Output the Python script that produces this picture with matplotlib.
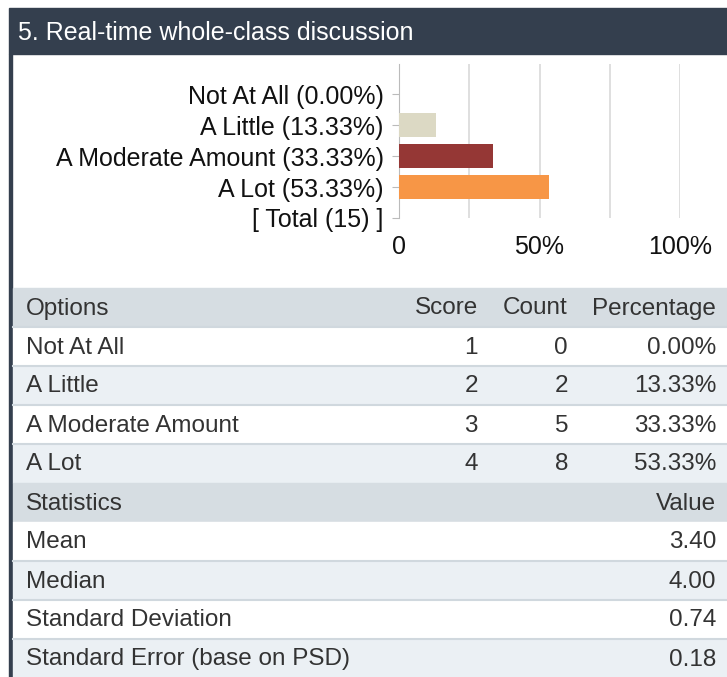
import matplotlib.pyplot as plt
from matplotlib.patches import Rectangle

plt.rcParams['font.family'] = ['Liberation Sans', 'DejaVu Sans']

title = "5. Real-time whole-class discussion"
options = ["Not At All", "A Little", "A Moderate Amount", "A Lot"]
scores = [1, 2, 3, 4]
counts = [0, 2, 5, 8]
percents = [0.00, 13.33, 33.33, 53.33]
total = 15
bar_colors = ["#dcd9c4", "#953735", "#f79646"]
stat_names = ["Mean", "Median", "Standard Deviation", "Standard Error (base on PSD)"]
stat_values = ["3.40", "4.00", "0.74", "0.18"]

W, H = 727, 677
fig = plt.figure(figsize=(W / 100, H / 100), dpi=100)

# full-figure canvas in pixel units for header and table
bg = fig.add_axes([0, 0, 1, 1])
bg.set_xlim(0, W)
bg.set_ylim(H, 0)
bg.axis('off')

text_col = "#333333"
light = "#ebf0f4"
band = "#d6dde2"
line_col = "#d0d8de"
fs = 17.5

bg.add_patch(Rectangle((9, 8), W - 9, 46, color="#343f4e"))
bg.text(18, 33, title, color="white", fontsize=18, va='center', ha='left')
bg.add_patch(Rectangle((9, 54), 2.5, H - 54, color="#343f4e"))

# bar chart
x0, x1, ytop, ybot = 399, 680, 64, 218
ax = fig.add_axes([x0 / W, 1 - ybot / H, (x1 - x0) / W, (ybot - ytop) / H])
ylabels = [f"{o} ({p:.2f}%)" for o, p in zip(options, percents)] + [f"[ Total ({total}) ]"]
ax.barh(range(1, 4), percents[1:], height=0.78, color=bar_colors, zorder=3)
ax.set_xlim(0, 100)
ax.set_ylim(4, -0.97)
ax.set_yticks(range(5))
ax.set_yticklabels(ylabels, fontsize=18, color="#111111")
ax.set_xticks([0, 25, 50, 75, 100])
ax.set_xticklabels(["0", "", "50%", "", "100%"], fontsize=18, color="#111111")
ax.grid(axis='x', color="#d9d9d9", lw=1.2, zorder=0)
for s in ['top', 'right', 'bottom']:
    ax.spines[s].set_visible(False)
ax.spines['left'].set_color("#bbbbbb")
ax.tick_params(axis='y', length=5, color="#bbbbbb", pad=6)
ax.tick_params(axis='x', length=0, pad=12)

# table
row_h = 39
cols_right = [478, 568, 716]
y = 288
bg.add_patch(Rectangle((13, y), W - 13, row_h, color=band))
bg.text(26, y + row_h / 2 + 1, "Options", fontsize=fs, color=text_col, va='center')
for xr, h in zip(cols_right, ["Score", "Count", "Percentage"]):
    bg.text(xr, y + row_h / 2 + 1, h, fontsize=fs, color=text_col, va='center', ha='right')
y += row_h
for i, (o, s, c, p) in enumerate(zip(options, scores, counts, percents)):
    bg.add_patch(Rectangle((13, y), W - 13, row_h, color=light if i % 2 else "white"))
    bg.plot([13, W], [y, y], color=line_col, lw=1.5)
    bg.text(26, y + row_h / 2 + 1, o, fontsize=fs, color=text_col, va='center')
    for xr, v in zip(cols_right, [str(s), str(c), f"{p:.2f}%"]):
        bg.text(xr, y + row_h / 2 + 1, v, fontsize=fs, color=text_col, va='center', ha='right')
    y += row_h
bg.add_patch(Rectangle((13, y), W - 13, row_h, color=band))
bg.text(26, y + row_h / 2 + 1, "Statistics", fontsize=fs, color=text_col, va='center')
bg.text(716, y + row_h / 2 + 1, "Value", fontsize=fs, color=text_col, va='center', ha='right')
y += row_h
for i, (n, v) in enumerate(zip(stat_names, stat_values)):
    bg.add_patch(Rectangle((13, y), W - 13, row_h, color=light if i % 2 else "white"))
    if i > 0:
        bg.plot([13, W], [y, y], color=line_col, lw=1.5)
    bg.text(26, y + row_h / 2 + 1, n, fontsize=fs, color=text_col, va='center')
    bg.text(716, y + row_h / 2 + 1, v, fontsize=fs, color=text_col, va='center', ha='right')
    y += row_h

fig.savefig("out.png", dpi=100)
